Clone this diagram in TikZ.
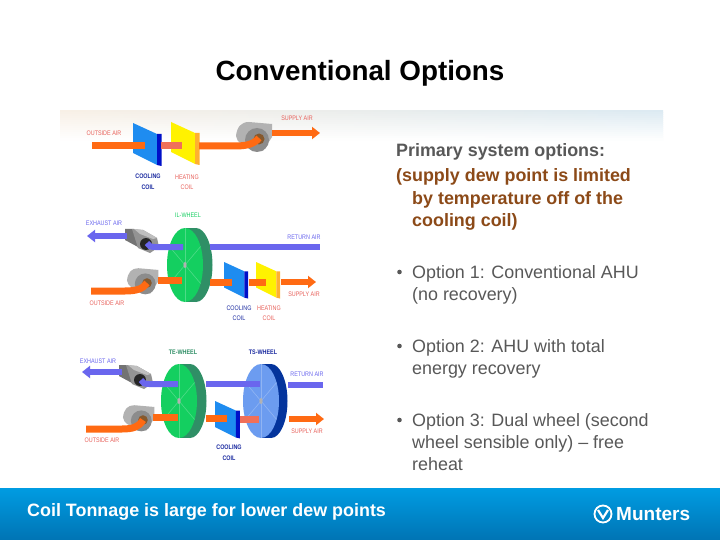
\documentclass[tikz,border=0pt]{standalone}
\usepackage{fontspec}
\setmainfont{Liberation Sans}
\usetikzlibrary{positioning,arrows.meta}
\definecolor{airorange}{HTML}{FF6A13}
\definecolor{airpink}{HTML}{F0705A}
\definecolor{airblue}{HTML}{6A66EE}
\definecolor{coilblue}{HTML}{1E8CF0}
\definecolor{coildark}{HTML}{0010C8}
\definecolor{heatyellow}{HTML}{FFF200}
\definecolor{heatside}{HTML}{FFB030}
\definecolor{wheelgreen}{HTML}{14CF60}
\definecolor{wheelgreenb}{HTML}{2F8F66}
\definecolor{wheelblue}{HTML}{6C9CF0}
\definecolor{wheelblueb}{HTML}{04349C}
\definecolor{textgray}{HTML}{585858}
\definecolor{notebrown}{HTML}{8C4A18}
\definecolor{lblred}{HTML}{E8605A}
\definecolor{lblnavy}{HTML}{1A2AA0}
\definecolor{bandl}{HTML}{F8F0E6}
\definecolor{bandm}{HTML}{FAEBD8}
\definecolor{bandr}{HTML}{DCEAF2}
\definecolor{foottop}{HTML}{009CE2}
\definecolor{footbot}{HTML}{0074B4}
\tikzset{
  air/.style={line width=#1},
  air/.default=7pt,
  outair/.style={line width=6pt,-{Triangle[length=8pt,width=12pt]}},
  lbl/.style={font=\fontsize{6.6}{10}\selectfont,inner sep=0pt,align=center,xscale=.82,transform shape},
  lblb/.style={lbl,font=\bfseries\fontsize{6.6}{11}\selectfont},
  bodytxt/.style={font=\fontsize{17.9}{22}\selectfont,text=textgray,inner sep=0pt,anchor=north west,align=left},
  boldtxt/.style={bodytxt,font=\bfseries\fontsize{17.9}{22}\selectfont},
}
% coil panel: scale, x, y, face, side
\newcommand*\mycoil[5][1]{
\begin{scope}[shift={(#2,#3)},scale=#1]
  \fill[#4] (0,0) -- (24,11) -- (24,42) -- (0,30) -- cycle;
  \fill[#5] (24,11) -- (28.5,11) -- (28.5,43) -- (24,42) -- cycle;
\end{scope}
}
% wheel: x, y, front, back, depth
\newcommand*\mywheel[5]{
  \fill[#4] (#1+#5,#2) ellipse (16.5 and 37);
  \fill[#4] (#1,#2-37) rectangle (#1+#5,#2+37);
  \fill[#3] (#1,#2) ellipse (18 and 37);
  \foreach \a in {30,90,150,210,270,330}
    \draw[white,opacity=.25,line width=.6pt] (#1,#2) -- ++(\a:18 and 37);
  \fill[gray!60] (#1,#2) ellipse (1.6 and 3);
}
% supply fan, at the eye
\newcommand*\myfanout[3][.87]{
\begin{scope}[shift={(#2,#3)},scale=#1]
  \fill[gray!60] (-23,-3) .. controls (-22,-12) and (-18,-17) .. (-10,-17) -- (13,-15) -- (13,-2) -- (4,12) -- (-9,9) .. controls (-16,6) and (-22,4) .. cycle;
  \fill[gray!90] (-2,1) circle (12);
  \fill[brown!70!black] (0,0) circle (5.5);
\end{scope}
}
% exhaust fan, at the eye
\newcommand*\myfanex[2]{
\begin{scope}[shift={(#1,#2)}]
  \fill[black!55] (-21,-15) -- (-12,-15) -- (-8,3) -- (-21,-4) -- cycle;
  \fill[gray!85] (-14,-15) -- (-3,-14) -- (11,-6) -- (13,3) -- (4,9) -- (-8,4) -- cycle;
  \fill[gray!50] (-12,-15) -- (-3,-14) -- (11,-6) -- (7,-5) -- (-6,-10) -- cycle;
  \fill[black!85] (0,0) circle (6);
\end{scope}
}

\begin{document}
\begin{tikzpicture}[x=1pt,y=-1pt]
  \useasboundingbox (0,0) rectangle (720,540);
  \fill[white] (0,0) rectangle (720,540);
  \foreach \i in {0,...,14}{
    \pgfmathtruncatemacro\p{100-\i*100/15}
    \fill[left color=bandl!\p!white,middle color=bandm!\p!white,right color=bandr!\p!white] (60,111+2*\i) rectangle (663,113+2*\i);
  }

  \node[font=\bfseries\fontsize{27.8}{30}\selectfont,inner sep=0pt] (title) at (360,73.5) {Conventional Options};

  % option 1
  \mycoil{133}{123}{coilblue}{coildark}
  \mycoil{171}{122}{heatyellow}{heatside}
  \myfanout[1]{259}{139}
  \draw[air,airorange] (92,146) -- (145,146);
  \draw[air,airpink] (161,146) -- (182,146);
  \draw[air,airorange] (199,146) -- (235,146) .. controls (247,146) and (254,144) .. (259,138);
  \draw[outair,airorange] (272,133) -- (320,133);
  \node[lbl,text=lblred] (oa1) at (104,133) {OUTSIDE AIR};
  \node[lbl,text=lblred] (sa1) at (297,118) {SUPPLY AIR};
  \node[lblb,text=lblnavy] (cc1) at (148,182) {COOLING\\COIL};
  \node[lbl,text=lblred] (hc1) at (187,182) {HEATING\\COIL};

  % option 2
  \mywheel{185}{265}{wheelgreen}{wheelgreenb}{11}
  \mycoil[.85]{224}{262}{coilblue}{coildark}
  \mycoil[.85]{256}{262}{heatyellow}{heatside}
  \myfanex{146}{244}
  \myfanout{147}{283}
  \draw[outair,airblue] (127,236) -- (87,236);
  \draw[air=6pt,airblue] (147,243) .. controls (148,246) and (151,247) .. (155,247) -- (183,247);
  \draw[air=6pt,airblue] (210,247) -- (320,247);
  \draw[air,airorange] (91,291) -- (125,291) .. controls (136,291) and (143,289) .. (147,283);
  \draw[air,airorange] (158,280) -- (182,280);
  \draw[air,airorange] (210,282) -- (232,282);
  \draw[air,airorange] (249,282) -- (266,282);
  \draw[outair,airorange] (281,282) -- (316,282);
  \node[lbl,text=airblue] (ea2) at (104,223) {EXHAUST AIR};
  \node[lbl,text=wheelgreen] (il) at (188,215) {IL-WHEEL};
  \node[lbl,text=airblue] (ra2) at (304,237) {RETURN AIR};
  \node[lbl,text=lblred] (oa2) at (107,303) {OUTSIDE AIR};
  \node[lbl,text=lblred] (sa2) at (304,294) {SUPPLY AIR};
  \node[lbl,text=lblnavy] (cc2) at (239,313) {COOLING\\COIL};
  \node[lbl,text=lblred] (hc2) at (269,313) {HEATING\\COIL};

  % option 3
  \mywheel{179}{401}{wheelgreen}{wheelgreenb}{11}
  \mywheel{261}{401}{wheelblue}{wheelblueb}{10}
  \mycoil[.87]{215}{401}{coilblue}{coildark}
  \myfanex{140}{380}
  \myfanout{143}{420}
  \draw[outair,airblue] (122,372) -- (82,372);
  \draw[air=6pt,airblue] (141,380) .. controls (142,383) and (145,384) .. (149,384) -- (178,384);
  \draw[air=6pt,airblue] (206,384) -- (260,384);
  \draw[air=6pt,airblue] (288,385) -- (323,385);
  \draw[air,airorange] (86,429) -- (122,429) .. controls (133,429) and (139,427) .. (143,420);
  \draw[air,airorange] (153,417) -- (178,417);
  \draw[air,airorange] (206,418) -- (227,418);
  \draw[air,airpink] (240,419) -- (259,419);
  \draw[outair,airorange] (289,419) -- (324,419);
  \node[lbl,text=airblue] (ea3) at (98,361) {EXHAUST AIR};
  \node[lblb,text=wheelgreenb] (te) at (183,352) {TE-WHEEL};
  \node[lblb,text=lblnavy] (ts) at (263,352) {TS-WHEEL};
  \node[lbl,text=airblue] (ra3) at (307,374) {RETURN AIR};
  \node[lbl,text=lblred] (oa3) at (102,440) {OUTSIDE AIR};
  \node[lbl,text=lblred] (sa3) at (307,431) {SUPPLY AIR};
  \node[lblb,text=lblnavy] (cc3) at (229,453) {COOLING\\COIL};

  % text column
  \node[boldtxt] (head) at (396,143) {Primary system options:};
  \node[boldtxt,text=notebrown] (note) at (396,168) {(supply dew point is limited};
  \node[boldtxt,text=notebrown,below=6pt of note.south west,anchor=north west,xshift=16pt] (noteb) {by temperature off of the\\cooling coil)};
  \node[bodytxt] (opta) at (412,265) {Option 1: Conventional AHU\\(no recovery)};
  \node[bodytxt] (optb) at (412,339) {Option 2: AHU with total\\energy recovery};
  \node[bodytxt] (optc) at (412,413) {Option 3: Dual wheel (second\\wheel sensible only) -- free\\reheat};
  \foreach \yy in {272,346,420}
    \fill[textgray] (399.5,\yy) circle (2.3);

  % footer
  \fill[top color=foottop,bottom color=footbot] (0,488) rectangle (720,540);
  \node[font=\bfseries\fontsize{17.9}{20}\selectfont,text=white,inner sep=0pt,anchor=west] (foot) at (27,511.5) {Coil Tonnage is large for lower dew points};
  \node[font=\bfseries\fontsize{19}{20}\selectfont,text=white,inner sep=0pt,anchor=west] (brand) at (616,514.5) {Munters};
  \draw[white,line width=1.8pt] (603,514) circle (8.5);
  \draw[white,line width=2.2pt] (598,510) -- (603,518) -- (608,510);
\end{tikzpicture}
\end{document}
